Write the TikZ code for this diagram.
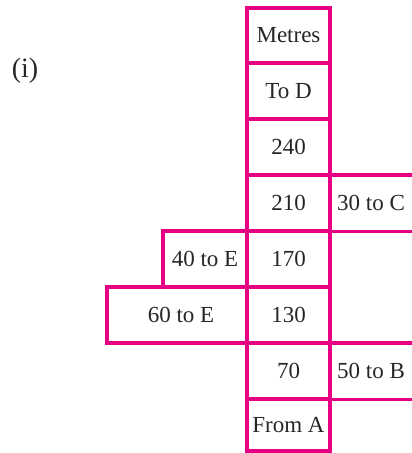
\documentclass[tikz,border=0pt]{standalone}
\usepackage{fontspec}
\setmainfont{Liberation Serif}
\definecolor{pinkline}{RGB}{232,0,132}
\begin{document}
\begin{tikzpicture}[x=1pt,y=-1pt,
  lbl/.style={font=\fontsize{23}{27}\selectfont,text=black!85,inner sep=0pt},
  cell/.style={lbl,draw=pinkline,line width=3.4pt,rectangle,minimum width=83pt,minimum height=56pt},
  opencell/.style={lbl,rectangle,minimum width=82pt,minimum height=56pt},
  edge/.style={draw=pinkline,line width=3.4pt}]
\useasboundingbox (0,0) rectangle (412,453);
\node[lbl,font=\fontsize{28}{32}\selectfont] (label) at (25,71) {(i)};
% left boxes
\node[cell,minimum width=84pt] (e40) at (205,259) {40 to E};
\node[cell,minimum width=140pt] (e60) at (177,315) {\hspace*{8pt}60 to E};
% right open boxes
\node[opencell] (c30) at (371,203) {30 to C};
\node[opencell] (b50) at (371,371) {50 to B};
\draw[edge] (c30.north west) -- (c30.north east);
\draw[edge] (c30.south west) -- (c30.south east);
\draw[edge] (b50.north west) -- (b50.north east);
\draw[edge] (b50.south west) -- (b50.south east);
% central column
\node[cell,minimum height=55pt] (metres) at (288.5,35.5) {Metres};
\node[cell] (tod) at (288.5,91) {To D};
\node[cell] (m240) at (288.5,147) {240};
\node[cell] (m210) at (288.5,203) {210};
\node[cell] (m170) at (288.5,259) {170};
\node[cell] (m130) at (288.5,315) {130};
\node[cell] (m70) at (288.5,371) {70};
\node[cell,minimum height=52pt] (froma) at (288.5,425) {From A};
\end{tikzpicture}
\end{document}
